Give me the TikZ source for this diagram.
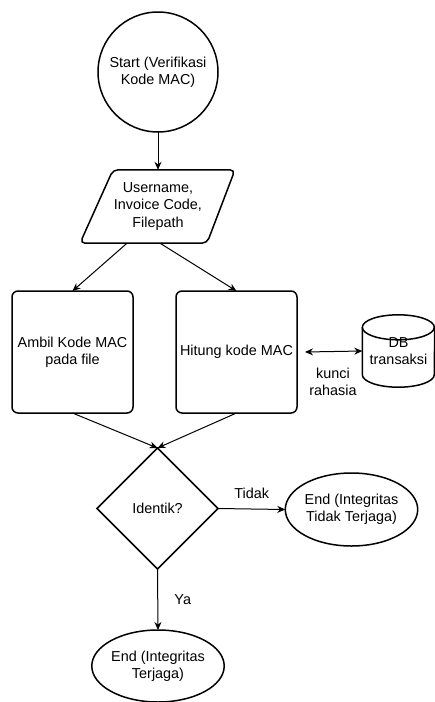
\documentclass[tikz,border=0pt]{standalone}
\usepackage{fontspec}
\setmainfont{Liberation Sans}
\usetikzlibrary{shapes.geometric,arrows.meta}
\begin{document}
\begin{tikzpicture}[x=1pt,y=1pt,
  txt/.style={font=\fontsize{14.4}{17.3}\selectfont, align=center, text=black},
  shp/.style={txt, draw, line width=1.5pt, outer sep=0pt, inner sep=0pt},
  tip/.style={Stealth[length=8pt,width=7pt]},
  conn/.style={line width=1pt, -{Stealth[length=8pt,width=7pt]}},
  ]
\useasboundingbox (0,0) rectangle (435,-702);
\node[shp, circle, minimum size=120pt] (start) at (158,-72) {Start (Verifikasi\\Kode MAC)};
\node[txt, minimum width=124pt, minimum height=73pt, inner sep=0pt] (inp) at (158,-206.5) {Username,\\Invoice Code,\\Filepath};
\draw[line width=1.5pt, rounded corners=5pt] ([xshift=-45pt]inp.north) -- ([xshift=77pt]inp.north) -- ([xshift=49pt]inp.south) -- ([xshift=-78pt]inp.south) -- cycle;
\node[shp, rectangle, rounded corners=6pt, minimum width=121pt, minimum height=122pt] (ambil) at (72.5,-352) {Ambil Kode MAC\\pada file};
\node[shp, rectangle, rounded corners=6pt, minimum width=121pt, minimum height=122pt] (hitung) at (236.5,-352) {Hitung kode MAC};
\node[txt, minimum width=72pt, minimum height=72pt, inner sep=0pt] (db) at (398.5,-351) {DB\\transaksi};
\draw[line width=1.5pt] (db.north west) ++(0,-12.5) arc[start angle=180, end angle=-180, x radius=36, y radius=12.5];
\draw[line width=1.5pt] ([yshift=-12.5pt]db.north west) -- ([yshift=12.5pt]db.south west) arc[start angle=180, end angle=360, x radius=36, y radius=12.5] -- ([yshift=-12.5pt]db.north east);
\node[shp, diamond, minimum width=121pt, minimum height=121pt] (cek) at (157.5,-508.5) {Identik?};
\node[shp, ellipse, minimum width=123pt, minimum height=73pt] (endno) at (351.5,-509.5) {End (Integritas\\Tidak Terjaga)};
\node[shp, ellipse, minimum width=122pt, minimum height=72pt] (endyes) at (158,-666) {End (Integritas\\Terjaga)};
\node[txt] (lbl) at (333,-382) {kunci\\rahasia};
\draw[conn] (start) -- (inp.north);
\draw[conn] ([xshift=-31pt]inp.south) -- (ambil.north);
\draw[conn] ([xshift=2pt]inp.south) -- (hitung.north);
\draw[conn] (ambil.south) -- (cek.north);
\draw[conn] (hitung.south) -- (cek.north);
\draw[line width=1pt, {Stealth[length=8pt,width=7pt]}-{Stealth[length=8pt,width=7pt]}] ([xshift=8pt]hitung.east) -- (db.west);
\draw[conn] (cek.east) -- node[txt, yshift=16pt] {Tidak} (endno.west);
\draw[conn] (cek.south) -- node[txt, xshift=25pt] {Ya} (endyes.north);
\end{tikzpicture}
\end{document}
